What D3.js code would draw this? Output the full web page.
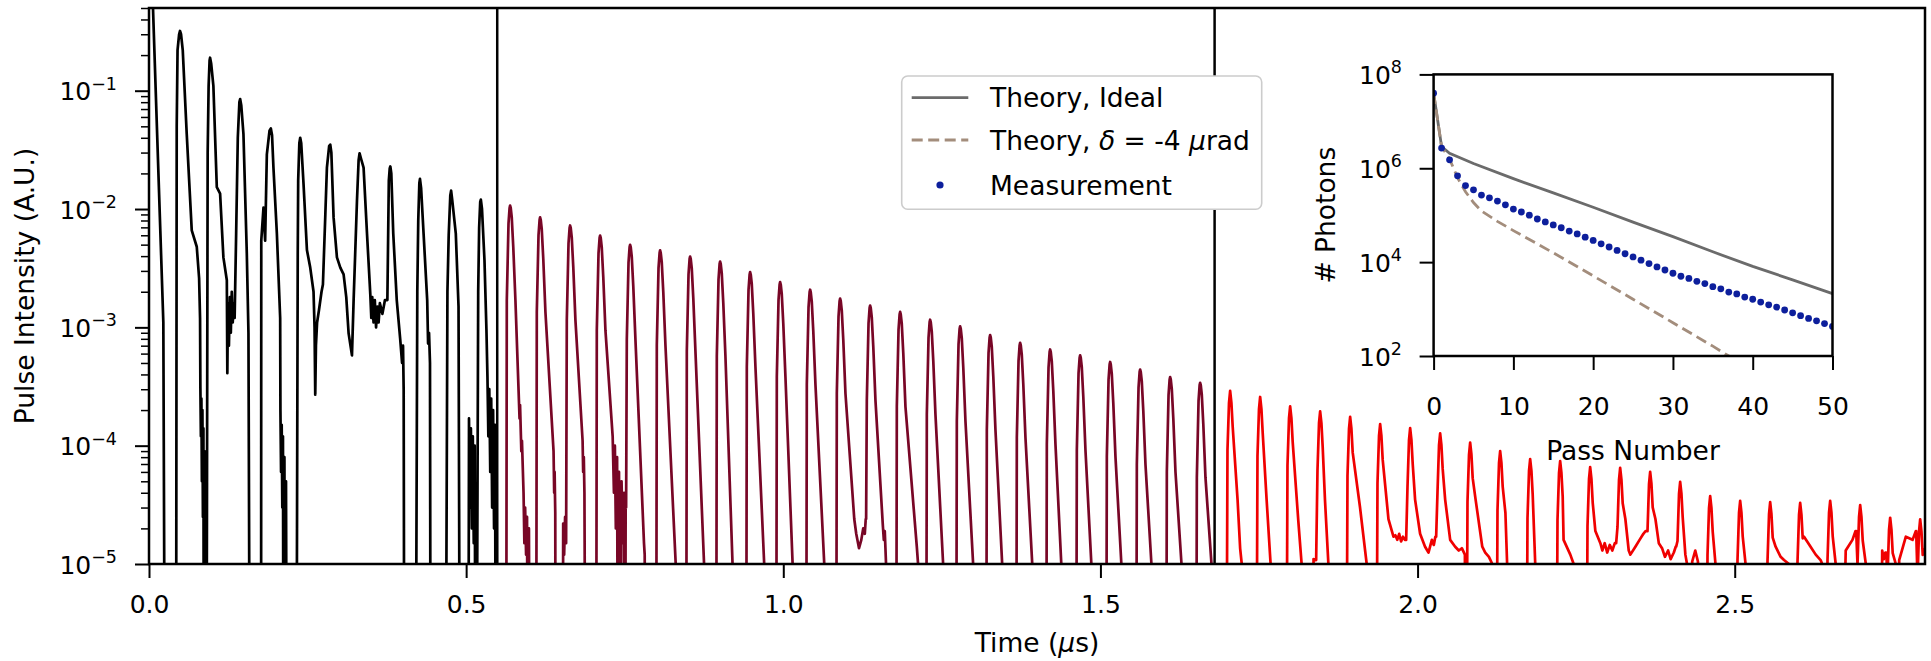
<!DOCTYPE html>
<html><head><meta charset="utf-8">
<script src="https://cdn.jsdelivr.net/npm/d3@7"></script>
<style>
html,body{margin:0;padding:0;background:#fff;}
svg{display:block;font-family:"DejaVu Sans",sans-serif;}
</style></head><body>
<svg id="chart" width="1931" height="661"></svg>
<script>
// ---------------- DATA ----------------
const xTickValues = [0, 0.5, 1.0, 1.5, 2.0, 2.5];
const yTickExponents = [-1, -2, -3, -4, -5];
const sectionBoundaries = [0.549, 1.680];

// passes 0..11 (black): explicit trace vertices [time (us), intensity]
const blackTrace = [
[0.0000,5],[0.0063,0.5],[0.0226,1.1e-3],[0.0240,1e-5],[0.0245,1e-7],
[0.0426,1e-7],[0.0430,1e-5],[0.0437,0.05],[0.0450,0.22],[0.0475,0.30],[0.0489,0.32],[0.0505,0.30],[0.0532,0.22],[0.0595,0.043],[0.0674,6.6e-3],[0.0753,4.8e-3],[0.0790,2.6e-3],[0.0805,1.2e-3],[0.0810,3.1e-4],[0.0818,1.2e-4],[0.0826,2.5e-4],[0.0834,5e-5],[0.0842,2e-4],[0.0850,2.5e-5],[0.0858,1.4e-4],[0.0866,1e-7],[0.0874,9e-5],[0.0882,1e-7],[0.0890,6e-5],[0.0898,1e-7],
[0.0908,1e-7],[0.0912,1e-5],[0.0925,0.03],[0.0940,0.11],[0.0955,0.18],[0.0963,0.19],[0.0980,0.17],[0.1015,0.11],[0.1069,0.0153],[0.1121,0.0135],[0.1173,3.9e-3],[0.1227,2.5e-3],[0.1235,4.1e-4],[0.1245,1.6e-3],[0.1260,7e-4],[0.1275,1.8e-3],[0.1290,9e-4],[0.1305,2e-3],[0.1320,1.1e-3],[0.1335,1.6e-3],[0.1350,1.2e-3],[0.1374,6.2e-3],[0.1400,0.04],[0.1425,0.08],[0.1437,0.085],[0.1455,0.075],[0.1489,0.043],[0.1542,4.2e-3],[0.1568,8.9e-4],[0.1580,1e-5],[0.1584,1e-7],
[0.1766,1e-7],[0.1768,1e-5],[0.1770,5.4e-3],[0.1805,0.0103],[0.1820,0.007],[0.1831,5.4e-3],[0.1858,0.029],[0.1900,0.046],[0.1921,0.048],[0.1940,0.042],[0.1962,0.0224],[0.2016,6.2e-3],[0.2068,1.2e-3],[0.2072,2e-4],[0.2082,6e-5],[0.2092,1.5e-4],[0.2102,3e-5],[0.2112,1.2e-4],[0.2122,1e-7],[0.2135,8e-5],[0.2148,1e-7],[0.2160,5e-5],[0.2175,1e-7],
[0.2330,1e-7],[0.2332,1e-5],[0.2345,4e-3],[0.2352,0.0174],[0.2370,0.036],[0.2384,0.040],[0.2400,0.036],[0.2436,0.0164],[0.2490,4.5e-3],[0.2542,3.2e-3],[0.2594,2.0e-3],[0.2610,1.0e-3],[0.2621,2.7e-4],[0.2632,7e-4],[0.2650,1.1e-3],[0.2680,1.4e-3],[0.2720,2.0e-3],[0.2742,2.3e-3],[0.2780,9e-3],[0.2805,0.0224],[0.2840,0.034],[0.2858,0.035],[0.2875,0.030],[0.2910,8.5e-3],[0.2963,3.9e-3],[0.3016,3.2e-3],[0.3068,2.8e-3],[0.3110,1.8e-3],[0.3147,8.9e-4],[0.3200,5.8e-4],[0.3226,1.7e-3],[0.3279,0.0118],[0.3305,0.026],[0.3320,0.0296],[0.3340,0.027],[0.3383,0.0224],[0.3437,6.2e-3],[0.3489,1.9e-3],[0.3505,1.2e-3],[0.3520,1.8e-3],[0.3540,1.1e-3],[0.3560,1.7e-3],[0.3580,1.0e-3],[0.3600,1.5e-3],[0.3620,1.1e-3],[0.3640,1.6e-3],[0.3680,1.3e-3],[0.3720,1.7e-3],[0.3758,1.7e-3],[0.3781,0.0174],[0.3795,0.022],[0.3805,0.0229],[0.3820,0.020],[0.3851,6.2e-3],[0.3906,1.7e-3],[0.3960,8e-4],[0.3990,5e-4],[0.4005,7e-4],[0.4015,3e-4],[0.4020,1e-5],[0.4024,1e-7],
[0.4213,1e-7],[0.4215,1e-5],[0.4230,2e-3],[0.4245,8e-3],[0.4262,0.0165],[0.4272,0.018],[0.4290,0.015],[0.4329,6.2e-3],[0.4386,1.7e-3],[0.4400,7.3e-4],[0.4415,9e-4],[0.4430,5e-4],[0.4435,1e-5],[0.4439,1e-7],
[0.4687,1e-7],[0.4689,1e-5],[0.4705,2e-3],[0.4725,6e-3],[0.4750,0.013],[0.4763,0.0143],[0.4780,0.012],[0.4837,6.2e-3],[0.4880,1.5e-3],[0.4892,1e-5],[0.4896,1e-7],
[0.5034,1e-7],[0.5045,1.7e-4],[0.5060,3e-5],[0.5075,1.4e-4],[0.5090,2e-5],[0.5105,1.2e-4],[0.5120,1.5e-5],[0.5135,1e-4],[0.5150,1e-7],
[0.5173,1e-7],[0.5175,1e-5],[0.5190,2e-3],[0.5205,7e-3],[0.5222,0.0115],[0.5232,0.012],[0.5250,0.010],[0.5289,3.7e-3],[0.5320,9.5e-4],[0.5336,3.8e-4],[0.5350,1.2e-4],[0.5365,3e-4],[0.5380,6e-5],[0.5395,2.5e-4],[0.5410,3e-5],[0.5425,2e-4],[0.5440,2e-5],[0.5455,1.5e-4],[0.5470,1e-7],[0.5480,1.2e-4],[0.5490,1e-7]
];

// passes 12..35 (dark red)
const maroonPeakTime = [0.5693,0.6166,0.6639,0.7112,0.7585,0.8058,0.8531,0.9004,0.9477,0.9950,1.0423,1.0896,1.1369,1.1842,1.2315,1.2788,1.3261,1.3734,1.4207,1.4680,1.5153,1.5626,1.6099,1.6572];
const maroonPeakValue = [1.07e-2,8.5e-3,7.26e-3,5.97e-3,4.99e-3,4.47e-3,3.97e-3,3.60e-3,2.93e-3,2.41e-3,2.08e-3,1.75e-3,1.53e-3,1.35e-3,1.16e-3,1.02e-3,8.6e-4,7.4e-4,6.5e-4,5.8e-4,5.1e-4,4.4e-4,3.8e-4,3.4e-4];
const maroonTail = [
[[0.5842,1.7e-4],[0.5850,2.2e-4],[0.5870,9e-5],[0.5880,1.1e-4],[0.5905,4e-5],[0.5918,1.5e-5],[0.5930,3e-5],[0.5945,1.2e-5],[0.5960,2.5e-5],[0.5975,1e-7],[0.5990,2e-5],[0.6005,1e-7]],
[[0.6378,9e-5],[0.6388,4e-5],[0.6395,6e-5],[0.6405,2.7e-5],[0.6412,1e-7],[0.6520,1e-7],[0.6530,2.2e-5],[0.6545,1.2e-5],[0.6560,2.5e-5],[0.6572,1.5e-5]],
[[0.6836,1.1e-4],[0.6845,6e-5],[0.6855,8e-5],[0.6865,4e-5],[0.6884,1e-7]],
[[0.7310,1.2e-4],[0.7330,4e-5],[0.7345,1e-4],[0.7360,2e-5],[0.7380,8e-5],[0.7395,1e-7],[0.7410,6e-5],[0.7430,1e-7],[0.7450,5e-5],[0.7470,1.5e-5],[0.7490,4e-5],[0.7505,1e-7],[0.7515,3e-5]],
[[0.7804,1.5e-5],[0.7815,1.2e-5],[0.7831,1e-7]],
[[0.8304,1e-5],[0.8312,1e-7]],
[[0.8751,1e-5],[0.8759,1e-7]],
[[0.9200,1e-5],[0.9208,1e-7]],
[[0.9699,1e-5],[0.9707,1e-7]],
[[1.0147,1e-5],[1.0155,1e-7]],
[[1.0646,1e-5],[1.0654,1e-7]],
[[1.1119,2.4e-5],[1.1150,1.8e-5],[1.1194,1.36e-5],[1.1230,1.6e-5],[1.1260,2e-5],[1.1285,1.8e-5],[1.1300,2.4e-5]],
[[1.1570,2.1e-5],[1.1585,1.6e-5],[1.1600,1.9e-5],[1.1620,1e-5],[1.1628,1e-7]],
[[1.2105,1.4e-5],[1.2125,1e-5],[1.2133,1e-7]],
[[1.2520,1e-5],[1.2528,1e-7]],
[[1.2993,1e-5],[1.3001,1e-7]],
[[1.3451,1e-5],[1.3459,1e-7]],
[[1.3925,1e-5],[1.3933,1e-7]],
[[1.4383,1e-5],[1.4391,1e-7]],
[[1.4857,1e-5],[1.4865,1e-7]],
[[1.5330,1e-5],[1.5338,1e-7]],
[[1.5804,1e-5],[1.5812,1e-7]],
[[1.6278,1e-5],[1.6286,1e-7]],
[[1.6751,1e-5],[1.6759,1e-7]]
];

// passes 36..59 (red)
const redPeakTime = [1.7045,1.7518,1.7991,1.8464,1.8937,1.9410,1.9883,2.0356,2.0829,2.1302,2.1775,2.2248,2.2721,2.3194,2.3667,2.4140,2.4613,2.5086,2.5559,2.6032,2.6505,2.6978,2.7451,2.7924];
const redPeakValue = [2.9e-4,2.58e-4,2.15e-4,1.95e-4,1.75e-4,1.52e-4,1.41e-4,1.27e-4,1.06e-4,9.0e-5,7.7e-5,7.4e-5,6.6e-5,6.5e-5,6.0e-5,4.95e-5,3.75e-5,3.42e-5,3.33e-5,3.29e-5,3.42e-5,3.15e-5,2.46e-5,2.38e-5];
const redTail = [
[[1.7162,3.5e-5],[1.7203,1.35e-5],[1.7228,1e-5],[1.7236,1e-7]],
[[1.7620,3.5e-5],[1.7683,1e-5],[1.7691,1e-7]],
[[1.8120,2.3e-5],[1.8172,1e-5],[1.8180,1e-7],[1.8350,1e-7],[1.8360,1.1e-5],[1.8390,1.08e-5]],
[[1.8540,3.5e-5],[1.8594,1e-5],[1.8602,1e-7]],
[[1.9093,3.0e-5],[1.9198,1e-5],[1.9206,1e-7]],
[[1.9541,2.4e-5],[1.9620,1.7e-5],[1.9650,1.75e-5],[1.9680,1.6e-5],[1.9710,1.8e-5],[1.9740,1.55e-5],[1.9770,1.7e-5],[1.9800,1.6e-5]],
[[1.9961,3.5e-5],[2.0040,1.8e-5],[2.0118,1.4e-5],[2.0172,1.25e-5],[2.0225,1.6e-5],[2.0256,1.45e-5],[2.0280,1.7e-5]],
[[2.0435,3.5e-5],[2.0514,1.6e-5],[2.0593,1.4e-5],[2.0650,1.3e-5],[2.0698,1.36e-5],[2.0746,1.2e-5],[2.0758,1e-7]],
[[2.0915,3.5e-5],[2.1020,1.4e-5],[2.1067,1.25e-5],[2.1125,1.15e-5],[2.1178,1e-5],[2.1186,1e-7]],
[[2.1385,2.7e-5],[2.1412,1e-5],[2.1420,1e-7]],
[[2.1855,1e-5],[2.1863,1e-7]],
[[2.2302,1.6e-5],[2.2408,1.2e-5],[2.2461,1e-5],[2.2469,1e-7]],
[[2.2803,1.9e-5],[2.2882,1.5e-5],[2.2913,1.3e-5],[2.2950,1.5e-5],[2.2990,1.25e-5],[2.3030,1.45e-5],[2.3070,1.3e-5],[2.3110,1.5e-5]],
[[2.3276,2.4e-5],[2.3329,1.3e-5],[2.3355,1.2e-5],[2.3434,1.4e-5],[2.3500,1.6e-5],[2.3560,1.8e-5],[2.3595,1.9e-5]],
[[2.3750,2.4e-5],[2.3803,1.5e-5],[2.3857,1.35e-5],[2.3900,1.15e-5],[2.3950,1.3e-5],[2.3990,1.1e-5],[2.4040,1.25e-5],[2.4070,1.4e-5]],
[[2.4222,1.2e-5],[2.4248,1e-5],[2.4256,1e-7],[2.4320,1e-7],[2.4330,1.05e-5],[2.4378,1.3e-5],[2.4420,1.05e-5],[2.4430,1e-7]],
[[2.4697,1e-5],[2.4705,1e-7]],
[[2.5171,1e-5],[2.5179,1e-7]],
[[2.5645,1.4e-5],[2.5724,1.15e-5],[2.5777,1.08e-5],[2.5856,1e-5],[2.5864,1e-7]],
[[2.6093,1.7e-5],[2.6196,1.4e-5],[2.6277,1.2e-5],[2.6354,1.08e-5],[2.6380,1e-5],[2.6388,1e-7]],
[[2.6592,1e-5],[2.6600,1e-7],[2.6671,1e-7],[2.6750,1.3e-5],[2.6856,1.6e-5],[2.6905,1.9e-5]],
[[2.7067,1e-5],[2.7075,1e-7],[2.7300,1e-7],[2.7325,1.3e-5],[2.7350,1.1e-5],[2.7375,1.25e-5]],
[[2.7540,1e-5],[2.7548,1e-7],[2.7593,1.08e-5],[2.7698,1.7e-5],[2.7804,1.6e-5],[2.7856,1.9e-5]],
[[2.8014,1.4e-5],[2.8100,1.2e-5]]
];

// pulse profile: [offset from peak (us), decades below peak]; null = carry previous level
const maroonRiseProfile = [[-0.0063,null],[-0.0052,0.8],[-0.0025,0.15],[-0.0008,0.02],[0,0]];
const maroonFallProfile = [[0.0010,0.02],[0.0026,0.1],[0.0050,0.35],[0.0084,0.8]];
const redRiseProfile = [[-0.0063,null],[-0.0042,0.5],[-0.0018,0.1],[0,0]];
const redFallProfile = [[0.002,0.1],[0.004,0.3]];

// inset
const insetXTicks = [0, 10, 20, 30, 40, 50];
const insetYTickExponents = [2, 4, 6, 8];
const measuredPhotons = [3.98e7,2.69e6,1.51e6,6.9e5,4.27e5,3.47e5,2.69e5,2.34e5,2.0e5,1.66e5,1.35e5,1.17e5,1.0e5,8.3e4,7.2e4,6.2e4,5.4e4,4.6e4,4.0e4,3.4e4,2.9e4,2.45e4,2.1e4,1.78e4,1.51e4,1.29e4,1.10e4,9.3e3,7.9e3,6.8e3,5.8e3,5.0e3,4.5e3,3.9e3,3.5e3,3.0e3,2.7e3,2.3e3,2.1e3,1.8e3,1.62e3,1.41e3,1.23e3,1.10e3,955,832,724,631,562,490,427];
const idealPass = [0,1,2,5,10,15,20,25,30,35,40,45,50];
const idealPhotons = [4.0e7,2.9e6,2.09e6,1.26e6,6.0e5,3.0e5,1.48e5,7.1e4,3.5e4,1.66e4,8.1e3,4.2e3,2.14e3];
const deltaPass = [0,1,2,3,4,5,6,8,10,15,20,25,30,35,37,40];
const deltaPhotons = [4.0e7,2.9e6,1.58e6,6.3e5,3.16e5,1.86e5,1.23e5,7.4e4,4.7e4,1.58e4,5.1e3,1.62e3,513,162,100,50];

// ---------------- DRAW ----------------
const svg = d3.select('#chart');
const FS = 25, LFS = 26.5;
const L = 149, R = 1925, T = 8, B = 564;
const x = d3.scaleLinear().domain([0, 2.8]).range([L, R]);
const y = d3.scaleLog().domain([1e-5, 0.5]).range([B, T]);

function buildTrace(peakT, peakV, tails, rise, fall) {
  const pts = [];
  let carry = 1e-7;
  peakT.forEach((tp, i) => {
    const vp = peakV[i];
    rise.forEach(([dt, d]) => pts.push([tp + dt, d === null ? carry : vp * Math.pow(10, -d)]));
    fall.forEach(([dt, d]) => pts.push([tp + dt, vp * Math.pow(10, -d)]));
    tails[i].forEach(p => pts.push(p));
    carry = tails[i].length ? tails[i][tails[i].length - 1][1] : 1e-7;
  });
  return pts;
}
const maroonTrace = buildTrace(maroonPeakTime, maroonPeakValue, maroonTail, maroonRiseProfile, maroonFallProfile);
const redTrace = buildTrace(redPeakTime, redPeakValue, redTail, redRiseProfile, redFallProfile);

svg.append('defs').append('clipPath').attr('id', 'plotClip')
  .append('rect').attr('x', L).attr('y', T).attr('width', R - L).attr('height', B - T);

const line = d3.line().x(d => x(d[0])).y(d => y(d[1]));
const plot = svg.append('g').attr('clip-path', 'url(#plotClip)');
[[blackTrace, '#000000'], [maroonTrace, '#780626'], [redTrace, '#f00000']].forEach(([data, col]) => {
  plot.append('path').datum(data).attr('d', line).attr('fill', 'none')
    .attr('stroke', col).attr('stroke-width', 2.7).attr('stroke-linejoin', 'round');
});
sectionBoundaries.forEach(t => {
  plot.append('line').attr('x1', x(t)).attr('x2', x(t)).attr('y1', T).attr('y2', B)
    .attr('stroke', '#000').attr('stroke-width', 2.5);
});

// frame
svg.append('rect').attr('x', L).attr('y', T).attr('width', R - L).attr('height', B - T)
  .attr('fill', 'none').attr('stroke', '#000').attr('stroke-width', 2.5);

// x axis
const xAxis = svg.append('g').attr('transform', `translate(0,${B})`)
  .call(d3.axisBottom(x).tickValues(xTickValues).tickFormat(d3.format('.1f')).tickSize(14).tickPadding(17));
xAxis.select('.domain').remove();
xAxis.selectAll('line').attr('stroke-width', 2);
xAxis.selectAll('text').attr('font-size', FS).attr('font-family', 'DejaVu Sans').attr('fill', '#000');

// y axis major + minor
const yMajors = yTickExponents.map(e => Math.pow(10, e));
const yMinors = [];
for (let e = -5; e <= -1; e++) for (let m = 2; m <= 9; m++) { const v = m * Math.pow(10, e); if (v <= 0.5) yMinors.push(v); }
const yAxis = svg.append('g').attr('transform', `translate(${L},0)`)
  .call(d3.axisLeft(y).tickValues(yMajors).tickFormat('').tickSize(14));
yAxis.select('.domain').remove();
yAxis.selectAll('line').attr('stroke-width', 2);
const yMinor = svg.append('g').attr('transform', `translate(${L},0)`)
  .call(d3.axisLeft(y).tickValues(yMinors).tickFormat('').tickSize(8));
yMinor.select('.domain').remove();
yMinor.selectAll('line').attr('stroke-width', 1.5);

function powLabel(g, xPos, yPos, base, exp, fs, anchor) {
  const t = g.append('text').attr('x', xPos).attr('y', yPos).attr('font-size', fs)
    .attr('text-anchor', anchor).attr('fill', '#000');
  t.append('tspan').text(base);
  t.append('tspan').attr('dy', -0.42 * fs).attr('font-size', fs * 0.7).text(exp);
  return t;
}
yTickExponents.forEach(e => {
  powLabel(svg, 117, y(Math.pow(10, e)) + 9.5, '10', e < 0 ? '\u2212' + Math.abs(e) : String(e), FS, 'end');
});

// axis labels
const xl = svg.append('text').attr('x', (L + R) / 2).attr('y', 652).attr('text-anchor', 'middle')
  .attr('font-size', LFS).attr('fill', '#000');
xl.append('tspan').text('Time (');
xl.append('tspan').attr('font-style', 'italic').text('\u03bc');
xl.append('tspan').text('s)');
svg.append('text').attr('transform', `translate(34,${(T + B) / 2}) rotate(-90)`).attr('text-anchor', 'middle')
  .attr('font-size', LFS).attr('fill', '#000').text('Pulse Intensity (A.U.)');

// legend
const lg = svg.append('g');
lg.append('rect').attr('x', 901.7).attr('y', 76).attr('width', 360).attr('height', 133.3).attr('rx', 6)
  .attr('fill', '#fff').attr('stroke', '#cccccc').attr('stroke-width', 1.6);
const rows = [97.7, 140, 185];
lg.append('line').attr('x1', 911.7).attr('x2', 968.3).attr('y1', rows[0]).attr('y2', rows[0])
  .attr('stroke', '#6b6b6b').attr('stroke-width', 2.8);
lg.append('line').attr('x1', 911.7).attr('x2', 968.3).attr('y1', rows[1]).attr('y2', rows[1])
  .attr('stroke', '#a38d7c').attr('stroke-width', 2.8).attr('stroke-dasharray', '11,5.5');
lg.append('circle').attr('cx', 940).attr('cy', rows[2]).attr('r', 3.6).attr('fill', '#0d1f9c');
lg.append('text').attr('x', 990).attr('y', rows[0] + 9.5).attr('font-size', LFS).text('Theory, Ideal');
const l2 = lg.append('text').attr('x', 990).attr('y', rows[1] + 9.5).attr('font-size', LFS);
l2.append('tspan').text('Theory, ');
l2.append('tspan').attr('font-style', 'italic').text('\u03b4');
l2.append('tspan').text(' = -4 ');
l2.append('tspan').attr('font-style', 'italic').text('\u03bc');
l2.append('tspan').text('rad');
lg.append('text').attr('x', 990).attr('y', rows[2] + 9.5).attr('font-size', LFS).text('Measurement');

// ---------------- INSET ----------------
const iL = 1433.6, iR = 1832.5, iT = 74.4, iB = 356;
const xi = d3.scaleLinear().domain([0, 50]).range([iL, iR]);
const yi = d3.scaleLog().domain([1e2, 1e8]).range([iB, iT]);
svg.append('rect').attr('x', iL).attr('y', iT).attr('width', iR - iL).attr('height', iB - iT).attr('fill', '#fff');
svg.append('defs').append('clipPath').attr('id', 'insetClip')
  .append('rect').attr('x', iL).attr('y', iT).attr('width', iR - iL).attr('height', iB - iT);
const ig = svg.append('g').attr('clip-path', 'url(#insetClip)');
const iline = d3.line().x(d => xi(d[0])).y(d => yi(d[1]));
ig.append('path').datum(idealPass.map((p, i) => [p, idealPhotons[i]])).attr('d', iline)
  .attr('fill', 'none').attr('stroke', '#6b6b6b').attr('stroke-width', 2.8);
ig.append('path').datum(deltaPass.map((p, i) => [p, deltaPhotons[i]])).attr('d', iline)
  .attr('fill', 'none').attr('stroke', '#a38d7c').attr('stroke-width', 2.8).attr('stroke-dasharray', '11,5.5');
ig.selectAll('circle.m').data(measuredPhotons).enter().append('circle').attr('class', 'm')
  .attr('cx', (d, i) => xi(i)).attr('cy', d => yi(d)).attr('r', 3.4).attr('fill', '#0d1f9c');
svg.append('rect').attr('x', iL).attr('y', iT).attr('width', iR - iL).attr('height', iB - iT)
  .attr('fill', 'none').attr('stroke', '#000').attr('stroke-width', 2.5);

const ixAxis = svg.append('g').attr('transform', `translate(0,${iB})`)
  .call(d3.axisBottom(xi).tickValues(insetXTicks).tickFormat(d3.format('d')).tickSize(14).tickPadding(27));
ixAxis.select('.domain').remove();
ixAxis.selectAll('line').attr('stroke-width', 2);
ixAxis.selectAll('text').attr('font-size', FS).attr('font-family', 'DejaVu Sans').attr('fill', '#000');
const iyAxis = svg.append('g').attr('transform', `translate(${iL},0)`)
  .call(d3.axisLeft(yi).tickValues(insetYTickExponents.map(e => Math.pow(10, e))).tickFormat('').tickSize(14));
iyAxis.select('.domain').remove();
iyAxis.selectAll('line').attr('stroke-width', 2);
insetYTickExponents.forEach(e => powLabel(svg, 1402, yi(Math.pow(10, e)) + 9.5, '10', String(e), FS, 'end'));
svg.append('text').attr('x', (iL + iR) / 2).attr('y', 460).attr('text-anchor', 'middle')
  .attr('font-size', LFS).text('Pass Number');
svg.append('text').attr('transform', `translate(1335,${(iT + iB) / 2}) rotate(-90)`).attr('text-anchor', 'middle')
  .attr('font-size', LFS).text('# Photons');
</script>
</body></html>
